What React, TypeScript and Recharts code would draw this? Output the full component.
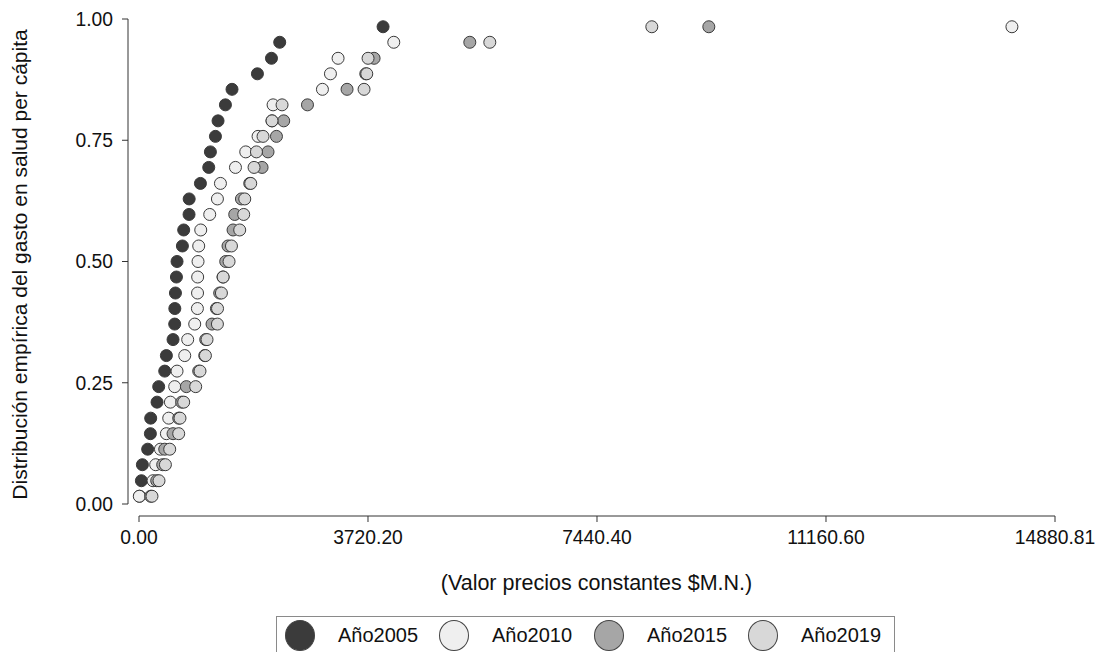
import React from 'react';
import { ScatterChart, Scatter, XAxis, YAxis } from 'recharts';

// empirical cumulative levels, one per state (same for every year)
const levels = [
  0.016, 0.048, 0.081, 0.113, 0.145, 0.177, 0.21, 0.242, 0.274, 0.306, 0.339,
  0.371, 0.403, 0.435, 0.468, 0.5, 0.532, 0.565, 0.597, 0.629, 0.661, 0.694,
  0.726, 0.758, 0.79, 0.823, 0.855, 0.887, 0.919, 0.952, 0.984,
];

// sorted per capita health spending, by year
const gasto2005 = [
  10, 39, 55, 141, 185, 190, 293, 320, 418, 445, 553, 580, 582, 592, 608, 618,
  705, 726, 813, 815, 998, 1133, 1160, 1242, 1284, 1404, 1511, 1924, 2152, 2286, 3965,
];
const gasto2010 = [
  5, 228, 271, 348, 445, 483, 510, 580, 618, 743, 791, 905, 949, 951, 953, 959,
  970, 1003, 1149, 1274, 1323, 1567, 1734, 1934, 2161, 2178, 2980, 3110, 3234, 4139, 14181,
];
const gasto2015 = [
  190, 288, 385, 418, 553, 645, 694, 770, 970, 1068, 1084, 1186, 1258, 1311, 1365, 1409,
  1446, 1528, 1555, 1664, 1799, 1999, 2096, 2233, 2351, 2737, 3380, 3684, 3819, 5374, 9257,
];
const gasto2019 = [
  211, 325, 429, 499, 645, 666, 726, 921, 991, 1079, 1105, 1274, 1276, 1339, 1367, 1463,
  1502, 1636, 1701, 1718, 1815, 1869, 1908, 2015, 2161, 2324, 3656, 3700, 3721, 5699, 8331,
];

const xTicks = [0, 3720.2, 7440.4, 11160.6, 14880.81];
const yTicks = [0, 0.25, 0.5, 0.75, 1];

const series = [
  { name: 'Año2005', values: gasto2005, fill: '#3b3b3b' },
  { name: 'Año2010', values: gasto2010, fill: '#efefef' },
  { name: 'Año2015', values: gasto2015, fill: '#a6a6a6' },
  { name: 'Año2019', values: gasto2019, fill: '#d8d8d8' },
];

const FONT = '"Liberation Sans", Arial, sans-serif';
const INK = '#111';

const dot = (fill: string) => (p: any) => (
  <circle cx={p.cx} cy={p.cy} r={6} fill={fill} stroke="#3a3a3a" strokeWidth={1} />
);

export default function App() {
  return (
    <div
      style={{
        position: 'fixed',
        left: 0,
        top: 0,
        width: 1096,
        height: 652,
        overflow: 'hidden',
        background: '#fff',
        fontFamily: FONT,
      }}
    >
      <ScatterChart width={1096} height={652} margin={{ top: 19, right: 41, left: 0, bottom: 46 }}>
        <XAxis
          type="number"
          dataKey="x"
          domain={[0, 14880.81]}
          ticks={xTicks}
          interval={0}
          padding={{ left: 11, right: 0 }}
          height={90}
          tickSize={6}
          tickMargin={8}
          tickFormatter={(v: number) => v.toFixed(2)}
          tick={{ fill: INK, fontSize: 19.3, fontFamily: FONT }}
          axisLine={{ stroke: '#333', strokeDasharray: '0 11 3000' }}
          tickLine={{ stroke: '#333' }}
          label={{
            value: '(Valor precios constantes $M.N.)',
            position: 'insideBottom',
            offset: 16,
            dx: 5,
            fill: INK,
            fontSize: 21.5,
            fontFamily: FONT,
          }}
        />
        <YAxis
          type="number"
          dataKey="y"
          domain={[0, 1]}
          ticks={yTicks}
          interval={0}
          width={128}
          padding={{ top: 0, bottom: 12 }}
          tickSize={6}
          tickMargin={9}
          tickFormatter={(v: number) => v.toFixed(2)}
          tick={{ fill: INK, fontSize: 19.3, fontFamily: FONT }}
          axisLine={{ stroke: '#333', strokeDasharray: '485 3000' }}
          tickLine={{ stroke: '#333' }}
          label={{
            value: 'Distribución empírica del gasto en salud per cápita',
            angle: -90,
            position: 'insideLeft',
            offset: 20,
            dy: -3,
            fill: INK,
            fontSize: 21,
            fontFamily: FONT,
            style: { textAnchor: 'middle' },
          }}
        />
        {series.map((s) => (
          <Scatter
            key={s.name}
            name={s.name}
            data={s.values.map((x, i) => ({ x, y: levels[i] }))}
            shape={dot(s.fill)}
            isAnimationActive={false}
          />
        ))}
      </ScatterChart>

      <div
        style={{
          position: 'absolute',
          left: 276,
          top: 616,
          width: 617,
          height: 46,
          border: '1px solid #8a8a8a',
          background: '#fff',
        }}
      >
        {series.map((s, i) => (
          <div
            key={s.name}
            style={{
              position: 'absolute',
              left: [8, 162, 317, 471][i],
              top: 2,
              display: 'flex',
              alignItems: 'center',
              height: 32,
            }}
          >
            <span
              style={{
                display: 'inline-block',
                width: 30,
                height: 31,
                borderRadius: '50%',
                background: s.fill,
                border: '1px solid #444',
                boxSizing: 'border-box',
              }}
            />
            <span style={{ marginLeft: 23, fontSize: 20, color: INK }}>{s.name}</span>
          </div>
        ))}
      </div>
    </div>
  );
}
